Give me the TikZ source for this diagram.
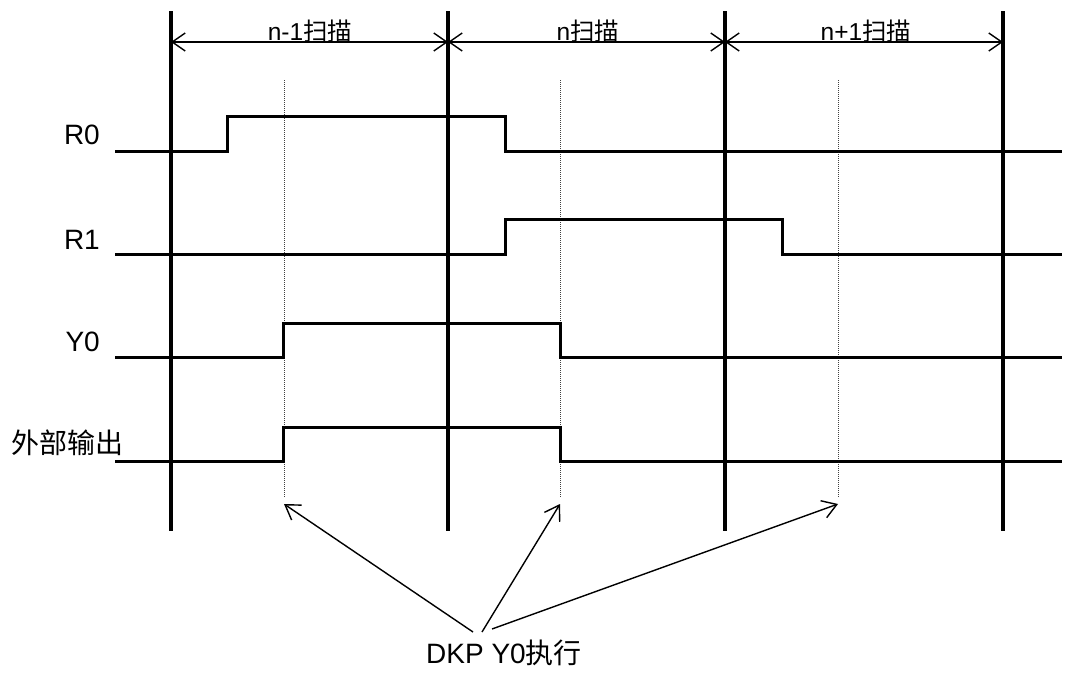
\documentclass[tikz,border=0pt]{standalone}
\usepackage{fontspec}
\setmainfont{Liberation Sans}
\newfontfamily\cjk{Noto Sans CJK SC}
\usetikzlibrary{arrows.meta}
\begin{document}
\begin{tikzpicture}[x=1pt,y=-1pt,
  scanline/.style={line width=4pt},
  sig/.style={line width=3pt, line join=miter},
  dotline/.style={line width=1pt, densely dotted, black!75},
  dim/.style={line width=1.4pt, {Straight Barb[length=13pt,width=18pt,line width=1.4pt]}-{Straight Barb[length=13pt,width=18pt,line width=1.4pt]}},
  ptr/.style={line width=1.4pt, -{Straight Barb[length=14pt,width=18pt,line width=1.4pt]}},
  toplbl/.style={font=\fontsize{24.5}{27}\selectfont, inner sep=0pt},
  lbl/.style={font=\fontsize{28}{31}\selectfont, inner sep=0pt}]
\useasboundingbox (0,0) rectangle (1068,672);
% scan boundaries
\foreach \n/\x in {a/171,b/448,c/725,d/1003}{
  \coordinate (\n top) at (\x,11);
  \coordinate (\n bot) at (\x,531);
  \coordinate (\n dim) at (\x,42);
  \draw[scanline] (\n top) -- (\n bot);
}
% execution instants
\foreach \n/\x in {p/284,q/560,r/838}{
  \coordinate (\n top) at (\x,80);
  \coordinate (\n bot) at (\x,497);
  \coordinate (\n tip) at (\x,504);
  \draw[dotline] (\n top) -- (\n bot);
}
% dimension arrows
\draw[dim] (adim) -- (bdim);
\draw[dim] (bdim) -- (cdim);
\draw[dim] (cdim) -- (ddim);
\node[toplbl] (s1) at (310,31) {n-1{\cjk 扫描}};
\node[toplbl] (s2) at (588,31) {n{\cjk 扫描}};
\node[toplbl] (s3) at (866,31) {n+1{\cjk 扫描}};
% signals
\node[lbl, anchor=east] (r0) at (100,135) {R0};
\node[lbl, anchor=east] (r1) at (100,240) {R1};
\node[lbl, anchor=east] (y0) at (100,342) {Y0};
\node[lbl, anchor=east] (ext) at (124,443) {\cjk 外部输出};
\draw[sig] (115,151) -- (227,151) -- (227,116) -- (505,116) -- (505,151) -- (1062,151);
\draw[sig] (115,254) -- (505,254) -- (505,219) -- (782,219) -- (782,254) -- (1062,254);
\draw[sig] (115,357) -- (283,357) -- (283,323) -- (560,323) -- (560,357) -- (1062,357);
\draw[sig] (115,461) -- (283,461) -- (283,427) -- (560,427) -- (560,461) -- (1062,461);
% pointer label
\node[lbl] (dkp) at (504,653) {DKP Y0{\cjk 执行}};
\coordinate (o1) at (473,632);
\coordinate (o2) at (482,632);
\coordinate (o3) at (492,629);
\draw[ptr] (o1) -- (ptip);
\draw[ptr] (o2) -- (qtip);
\draw[ptr] (o3) -- (rtip);
\end{tikzpicture}
\end{document}
